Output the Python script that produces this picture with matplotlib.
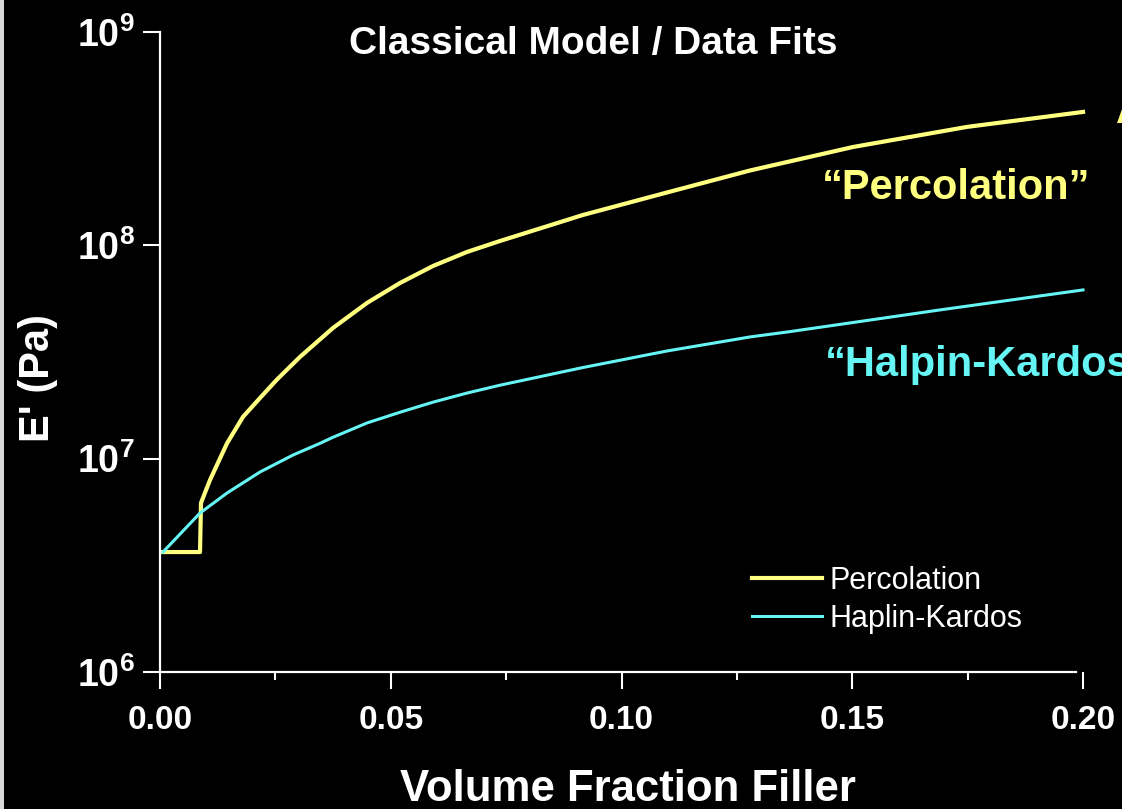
import matplotlib
matplotlib.use('Agg')
import matplotlib.pyplot as plt
from matplotlib.patches import Rectangle
from matplotlib.ticker import FixedLocator, MultipleLocator

plt.rcParams['font.family'] = ['Liberation Sans', 'DejaVu Sans']
plt.rcParams['mathtext.fontset'] = 'custom'
plt.rcParams['mathtext.rm'] = 'Liberation Sans:bold'
plt.rcParams['mathtext.bf'] = 'Liberation Sans:bold'

# values
perc_x = [0.00065, 0.00867, 0.00888, 0.01083, 0.01452, 0.01798, 0.02167, 0.02535,
          0.03034, 0.03749, 0.04485, 0.05200, 0.05915, 0.06652, 0.07367, 0.09166,
          0.10986, 0.12784, 0.15016, 0.17486, 0.2]
perc_y = [3.65e6, 3.65e6, 6.2e6, 7.94e6, 1.18e7, 1.57e7, 1.925e7, 2.35e7,
          3.0e7, 4.1e7, 5.37e7, 6.66e7, 8.0e7, 9.31e7, 1.048e8, 1.388e8,
          1.769e8, 2.243e8, 2.89e8, 3.59e8, 4.22e8]

hk_x = [0.00065, 0.00867, 0.01452, 0.02167, 0.02882, 0.03467, 0.03749, 0.04485,
        0.05200, 0.05915, 0.06652, 0.07367, 0.09166, 0.10986, 0.12784, 0.13649,
        0.16901, 0.2]
hk_y = [3.65e6, 5.56e6, 6.9e6, 8.66e6, 1.04e7, 1.18e7, 1.26e7, 1.47e7,
        1.65e7, 1.84e7, 2.03e7, 2.21e7, 2.675e7, 3.197e7, 3.72e7, 3.94e7,
        4.98e7, 6.18e7]

x_ticks = [0.00, 0.05, 0.10, 0.15, 0.20]
x_ticklabels = ['0.00', '0.05', '0.10', '0.15', '0.20']
y_ticks = [1e6, 1e7, 1e8, 1e9]
y_ticklabels = [r'$10^{6}$', r'$10^{7}$', r'$10^{8}$', r'$10^{9}$']

W, H = 1122, 809
yellow = '#ffff80'
cyan = '#66f5f5'

fig = plt.figure(figsize=(W / 100, H / 100), dpi=100, facecolor='black')
ax = fig.add_axes([160 / W, 1 - 672 / H, (1083 - 160) / W, (672 - 32) / H])
ax.set_facecolor('black')

ax.plot(perc_x, perc_y, color=yellow, lw=3.0, label='Percolation', clip_on=False)
ax.plot(hk_x, hk_y, color=cyan, lw=2.2, label='Haplin-Kardos', clip_on=False)

ax.set_yscale('log')
ax.set_xlim(0, 0.2)
ax.set_ylim(1e6, 1e9)

ax.xaxis.set_major_locator(FixedLocator(x_ticks))
ax.set_xticklabels(x_ticklabels)
ax.xaxis.set_minor_locator(MultipleLocator(0.025))
ax.yaxis.set_major_locator(FixedLocator(y_ticks))
ax.set_yticklabels(y_ticklabels)
ax.yaxis.set_minor_locator(FixedLocator([]))

for s in ['top', 'right']:
    ax.spines[s].set_visible(False)
for s in ['left', 'bottom']:
    ax.spines[s].set_color('white')
    ax.spines[s].set_linewidth(1.6)
ax.spines['bottom'].set_bounds(0, 0.1985)

ax.tick_params(axis='both', which='major', colors='white', length=12, width=1.5,
               direction='out')
ax.tick_params(axis='x', which='major', labelsize=24, pad=12)
ax.tick_params(axis='y', which='major', labelsize=27, pad=6)
ax.tick_params(axis='x', which='minor', colors='white', length=6, width=1.5, direction='out')
for lab in ax.get_xticklabels():
    lab.set_fontweight('bold')

leg = ax.legend(loc='upper left', bbox_to_anchor=(752 / W, 1 - 566 / H),
                bbox_transform=fig.transFigure, frameon=False, fontsize=22,
                handlelength=2.3, handletextpad=0.25, labelspacing=0.25,
                borderpad=0, borderaxespad=0)
for t in leg.get_texts():
    t.set_color('white')

fig.text(593 / W, 1 - 44 / H, 'Classical Model / Data Fits', color='white',
         fontsize=28, fontweight='bold', ha='center', va='center')
fig.text(822 / W, 1 - 188 / H, '\u201cPercolation\u201d', color=yellow,
         fontsize=30, fontweight='bold', ha='left', va='center')
fig.text(825 / W, 1 - 365 / H, '\u201cHalpin-Kardos\u201d', color=cyan,
         fontsize=30, fontweight='bold', ha='left', va='center')
fig.text(1116 / W, 1 - 112 / H, 'A', color=yellow,
         fontsize=30, fontweight='bold', ha='left', va='center')
fig.text(38 / W, 1 - 378 / H, "E' (Pa)", color='white', fontsize=30,
         fontweight='bold', rotation=90, ha='center', va='center')
fig.text(628 / W, 1 - 801 / H, 'Volume Fraction Filler', color='white',
         fontsize=31.5, fontweight='bold', ha='center', va='baseline')

fig.patches.append(Rectangle((0, 0), 4 / W, 1, transform=fig.transFigure,
                             facecolor='#d8d8d8', edgecolor='none'))

fig.savefig('out.png', dpi=100, facecolor='black')
